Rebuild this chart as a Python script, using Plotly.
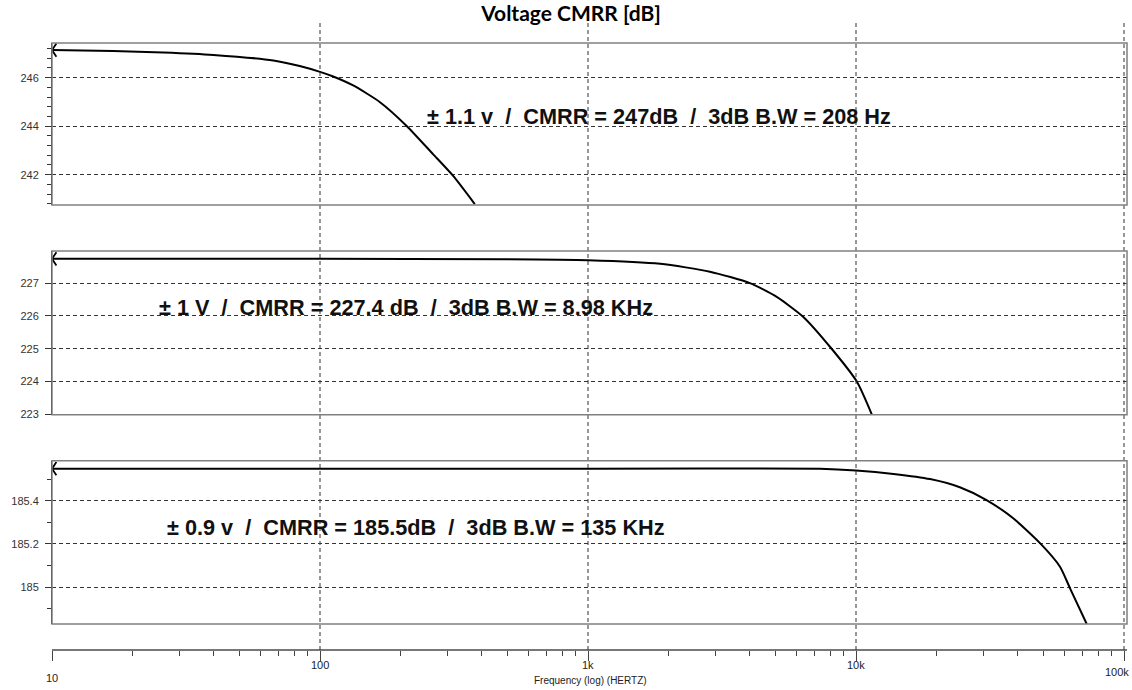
import plotly.graph_objects as go
import math

# ---------------- data ----------------
freq1 = [10, 16.9, 26, 40, 67, 84, 100, 112, 133, 167, 211, 264, 314, 378]
cmrr1 = [247.14, 247.10, 247.04, 246.94, 246.71, 246.48, 246.24, 246.05, 245.68, 245.0, 244.0, 242.85, 241.95, 240.79]

freq2 = [10, 100, 500, 1000, 1860, 2850, 4020, 5060, 6360, 8110, 10070, 11450]
cmrr2 = [227.74, 227.74, 227.73, 227.70, 227.59, 227.35, 227.0, 226.58, 225.97, 225.0, 224.0, 223.0]

freq3 = [10, 100, 1000, 7340, 10000, 13800, 18900, 24400, 30700, 38600, 48600, 57700, 62900, 72600]
cmrr3 = [185.548, 185.548, 185.548, 185.548, 185.54, 185.524, 185.50, 185.462, 185.403, 185.319, 185.204, 185.095, 184.995, 184.83]

panel_labels = [
    "± 1.1 v  /  CMRR = 247dB  /  3dB B.W = 208 Hz",
    "± 1 V  /  CMRR = 227.4 dB  /  3dB B.W = 8.98 KHz",
    "± 0.9 v  /  CMRR = 185.5dB  /  3dB B.W = 135 KHz",
]

y1_ticks = [242, 244, 246]
y1_text = ["242", "244", "246"]
y2_ticks = [223, 224, 225, 226, 227]
y2_text = ["223", "224", "225", "226", "227"]
y3_ticks = [185, 185.2, 185.4]
y3_text = ["185", "185.2", "185.4"]

x_tick_vals = [10, 100, 1000, 10000, 100000]
x_tick_labels = ["10", "100", "1k", "10k", "100k"]

title_text = "Voltage CMRR [dB]"
x_title = "Frequency (log) (HERTZ)"

# ---------------- layout geometry ----------------
W, H = 1132, 690
L, R, T, B = 52, 5, 20, 40
PW, PH = W - L - R, H - T - B
XR = [1, 1 + PW / 268.0]


def px_x(X):
    return (X - L) / PW


def px_y(Y):
    return (H - B - Y) / PH


def val_x(v):
    return (math.log10(v) - XR[0]) / (XR[1] - XR[0])


dom1 = [px_y(205), px_y(43)]
dom2 = [px_y(414.7), px_y(251)]
dom3 = [px_y(624), px_y(460.7)]

fig = go.Figure()
line_style = dict(color="black", width=2, shape="spline", smoothing=0.6)
for fx, cy, ya in [(freq1, cmrr1, "y"), (freq2, cmrr2, "y2"), (freq3, cmrr3, "y3")]:
    fig.add_trace(go.Scatter(x=fx, y=cy, xaxis="x", yaxis=ya, mode="lines",
                             line=line_style, showlegend=False, hoverinfo="skip"))
    fig.add_trace(go.Scatter(x=[fx[0]], y=[cy[0]], xaxis="x", yaxis=ya, mode="markers",
                             marker=dict(symbol="y-left", size=11,
                                         line=dict(width=1.8, color="black")),
                             showlegend=False, hoverinfo="skip"))

tick_font = dict(family="Liberation Sans, Arial, sans-serif", size=11, color="#333")
grid_common = dict(showgrid=True, gridcolor="#333", griddash="4px,3px", gridwidth=1,
                   zeroline=False, showline=True, linecolor="#222", linewidth=1,
                   ticks="outside", ticklen=6, tickcolor="#333", tickfont=tick_font,
                   anchor="x", tickmode="array", ticklabelstandoff=4, automargin=False)

fig.update_layout(
    width=W, height=H,
    margin=dict(l=L, r=R, t=T, b=B, autoexpand=False),
    paper_bgcolor="white", plot_bgcolor="white",
    xaxis=dict(type="log", range=XR, domain=[0, 1], anchor="free", position=0,
               showgrid=False, zeroline=False, showline=True, linecolor="#777", linewidth=2,
               ticks="outside", ticklen=10, tickcolor="#444", tickmode="array",
               tickvals=x_tick_vals, showticklabels=False, automargin=False,
               minor=dict(ticks="outside", ticklen=5, tickcolor="#444", tickmode="array",
                          tickvals=[m * d for d in x_tick_vals[:-1] for m in range(2, 10)])),
    yaxis=dict(domain=dom1, range=[240.75, 247.43], tickvals=y1_ticks, ticktext=y1_text,
               minor=dict(ticks="outside", ticklen=4, tickcolor="#333", tickmode="linear",
                          tick0=242, dtick=0.4), **grid_common),
    yaxis2=dict(domain=dom2, range=[222.99, 227.98], tickvals=y2_ticks, ticktext=y2_text,
                **grid_common),
    yaxis3=dict(domain=dom3, range=[184.83, 185.585], tickvals=y3_ticks, ticktext=y3_text,
                minor=dict(ticks="outside", ticklen=4, tickcolor="#333", tickmode="linear",
                           tick0=185, dtick=0.1), **grid_common),
    title=dict(text="<b>" + title_text + "</b>", x=571 / W, xanchor="center",
               y=1 - 14 / H, yanchor="middle",
               font=dict(family="Lato, Open Sans, sans-serif", size=21, color="black")),
)

shapes = []
# vertical dashed decade lines across the whole figure
for v in x_tick_vals[1:]:
    xp = val_x(v)
    shapes.append(dict(type="line", xref="paper", yref="paper", x0=xp, x1=xp, y0=0, y1=1,
                       line=dict(color="#333", width=1, dash="4px,3px"), layer="above"))
# panel boxes
for d in (dom1, dom2, dom3):
    shapes.append(dict(type="rect", xref="paper", yref="paper", x0=0, x1=1, y0=d[0], y1=d[1],
                       line=dict(color="#808080", width=1.5), fillcolor="rgba(0,0,0,0)",
                       layer="above"))
fig.update_layout(shapes=shapes)

ann = []
label_pos = [(425, 116.5), (157, 307.5), (165, 527.5)]
for txt, (X, Y) in zip(panel_labels, label_pos):
    ann.append(dict(text="<b>" + txt.replace(" ", "\u00a0") + "</b>", xref="paper", yref="paper",
                    x=px_x(X), y=px_y(Y), xanchor="left", yanchor="middle", showarrow=False,
                    font=dict(family="Liberation Sans, Arial, sans-serif", size=21.7, color="#111")))

x_label_offsets = [28, 15, 15, 15, 22]
x_label_anchor = ["center", "center", "center", "center", "right"]
x_label_shift = [0, 0, 0, 0, 7]
axis_font = dict(family="Liberation Sans Narrow, Arial Narrow, Liberation Sans, sans-serif",
                 size=11, color="#222")
for v, t, off, anc, xs in zip(x_tick_vals, x_tick_labels, x_label_offsets, x_label_anchor, x_label_shift):
    ann.append(dict(text=t, xref="paper", yref="paper", x=val_x(v), y=0,
                    yshift=-off, xshift=xs, xanchor=anc, yanchor="middle", showarrow=False,
                    font=axis_font))
ann.append(dict(text=x_title, xref="paper", yref="paper", x=px_x(590), y=0, yshift=-30,
                xanchor="center", yanchor="middle", showarrow=False,
                font=dict(family=axis_font["family"], size=10, color="#222")))
fig.update_layout(annotations=ann)

fig.write_html("out.html",
               config={"displayModeBar": False},
               post_script="document.body.style.margin='0';document.body.style.padding='0';"
                           "document.body.style.overflow='hidden';")
